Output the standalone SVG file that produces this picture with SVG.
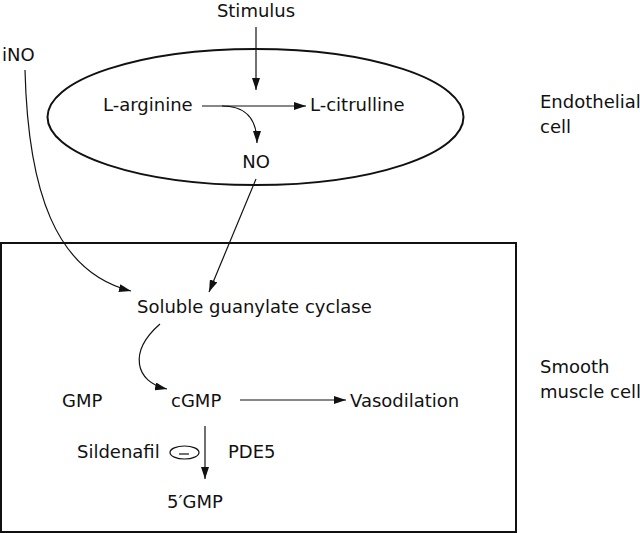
<svg xmlns="http://www.w3.org/2000/svg" width="640" height="533" viewBox="0 0 640 533">
<style>
text{font-family:"DejaVu Sans","Liberation Sans",sans-serif;font-size:18px;fill:#111}
.ln{fill:none;stroke:#111;stroke-width:1.2}
.bd{fill:none;stroke:#111;stroke-width:2}
</style>
<defs>
<marker id="ah" viewBox="0 0 12 8" refX="12" refY="4" markerWidth="12" markerHeight="8" markerUnits="userSpaceOnUse" orient="auto">
<path d="M0,0 L12,4 L0,8 Z" fill="#111"/>
</marker>
</defs>
<rect width="640" height="533" fill="#fff"/>
<g id="endothelial-cell">
<ellipse class="bd" cx="255.5" cy="117" rx="208" ry="68"/>
<text x="540" y="108">Endothelial</text>
<text x="540" y="133">cell</text>
</g>
<g id="smooth-muscle-cell">
<rect class="bd" x="1" y="243" width="515" height="289"/>
<text x="540" y="373">Smooth</text>
<text x="540" y="398">muscle cell</text>
</g>
<g id="stimulus"><text x="256" y="17" text-anchor="middle">Stimulus</text></g>
<g id="ino"><text x="2" y="61">iNO</text></g>
<g id="l-arginine"><text x="103" y="111">L-arginine</text></g>
<g id="l-citrulline"><text x="310" y="111">L-citrulline</text></g>
<g id="no"><text x="256" y="168" text-anchor="middle">NO</text></g>
<g id="sgc"><text x="137" y="313">Soluble guanylate cyclase</text></g>
<g id="gmp"><text x="62" y="407">GMP</text></g>
<g id="cgmp"><text x="171" y="407">cGMP</text></g>
<g id="vasodilation"><text x="350" y="407">Vasodilation</text></g>
<g id="sildenafil"><text x="77" y="458">Sildenafil</text></g>
<g id="inhibition">
<ellipse class="ln" cx="184.5" cy="452.5" rx="14.5" ry="6.5"/>
<line class="ln" x1="179" y1="454" x2="189" y2="454"/>
</g>
<g id="pde5"><text x="228" y="458">PDE5</text></g>
<g id="gmp5"><text x="167" y="508">5′GMP</text></g>
<g id="connectors">
<line class="ln" x1="256" y1="27" x2="256" y2="90" marker-end="url(#ah)"/>
<line class="ln" x1="202" y1="106" x2="306" y2="106" marker-end="url(#ah)"/>
<path class="ln" d="M222,106 C245,106 257,118 257,143" marker-end="url(#ah)"/>
<path class="ln" d="M256,179 L209,292" marker-end="url(#ah)"/>
<path class="ln" d="M25,70 C28,190 55,272 131,291" marker-end="url(#ah)"/>
<path class="ln" d="M160,324 C128,352 135,382 167,389" marker-end="url(#ah)"/>
<line class="ln" x1="240" y1="400" x2="346" y2="400" marker-end="url(#ah)"/>
<line class="ln" x1="205" y1="426" x2="205" y2="479" marker-end="url(#ah)"/>
</g>
</svg>
